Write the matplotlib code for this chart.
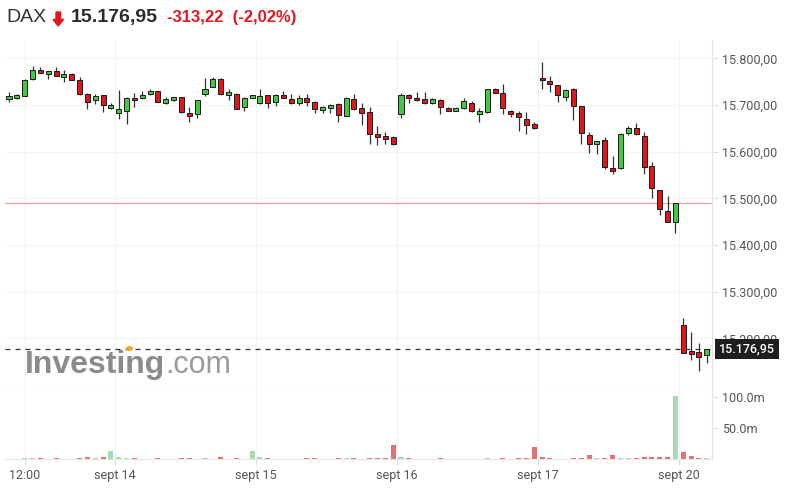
import numpy as np
import matplotlib.pyplot as plt
from matplotlib.patches import Polygon
from matplotlib.ticker import FuncFormatter, FixedLocator
import matplotlib.transforms as mtransforms

# %% data: DAX 30-min candles, 13-20 sept
opens = [15713.2, 15714.6, 15720.4, 15755.4, 15775.4, 15766.8, 15772.5, 15760.4, 15766.8, 15753.9,
         15723.9, 15710.4, 15721.1, 15693.2, 15682.5, 15688.2, 15716.1, 15714.6, 15723.2, 15729.6,
         15704.6, 15710.4, 15716.8, 15683.9, 15680.4, 15723.2, 15739.7, 15756.1, 15721.1, 15724.7,
         15696.8, 15715.4, 15703.9, 15721.8, 15706.8, 15721.1, 15713.2, 15703.9, 15716.1, 15707.5,
         15688.9, 15693.2, 15703.2, 15677.5, 15713.2, 15694.7, 15686.1, 15638.9, 15633.2, 15632.5,
         15680.4, 15721.1, 15715.4, 15713.2, 15703.9, 15710.4, 15694.7, 15688.2, 15694.0, 15705.4,
         15680.4, 15685.4, 15734.7, 15726.8, 15686.8, 15683.9, 15670.4, 15660.4, 15758.9, 15751.1,
         15742.5, 15718.2, 15734.6, 15697.5, 15636.1, 15616.1, 15624.6, 15566.1, 15564.6, 15639.6,
         15651.8, 15633.2, 15568.9, 15517.5, 15472.5, 15450.4, 15228.2, 15173.2, 15171.8, 15164.6]
highs = [15727.5, 15723.2, 15755.4, 15784.6, 15781.1, 15773.9, 15781.1, 15776.1, 15769.6, 15759.6,
         15725.4, 15723.2, 15721.8, 15703.9, 15731.8, 15717.5, 15726.8, 15731.1, 15734.6, 15730.4,
         15716.8, 15718.2, 15718.0, 15695.4, 15711.1, 15757.5, 15759.7, 15757.5, 15733.9, 15725.4,
         15717.5, 15721.8, 15734.7, 15722.5, 15724.0, 15730.4, 15723.2, 15722.5, 15724.0, 15708.2,
         15698.2, 15701.8, 15704.0, 15716.8, 15723.2, 15703.9, 15696.1, 15656.1, 15642.5, 15633.2,
         15725.4, 15724.7, 15727.5, 15727.5, 15715.4, 15712.5, 15696.1, 15696.1, 15715.4, 15708.2,
         15693.2, 15735.4, 15736.1, 15744.7, 15689.7, 15687.5, 15685.4, 15663.9, 15793.2, 15762.5,
         15743.9, 15735.4, 15736.1, 15698.9, 15641.8, 15623.2, 15631.1, 15591.1, 15639.6, 15656.1,
         15661.8, 15642.5, 15577.5, 15518.2, 15505.4, 15490.2, 15243.2, 15213.2, 15189.6, 15178.0]
lows = [15707.5, 15713.2, 15718.9, 15754.0, 15768.2, 15756.1, 15762.5, 15750.4, 15753.2, 15721.1,
        15691.8, 15701.8, 15686.1, 15691.1, 15670.4, 15659.6, 15696.8, 15713.2, 15721.1, 15706.1,
        15702.5, 15708.9, 15683.9, 15664.7, 15673.2, 15719.7, 15738.2, 15722.5, 15710.4, 15691.1,
        15688.2, 15714.7, 15703.2, 15694.7, 15699.0, 15714.7, 15703.2, 15700.4, 15698.2, 15683.9,
        15683.2, 15682.5, 15663.9, 15676.8, 15689.7, 15656.8, 15616.1, 15613.9, 15616.8, 15615.4,
        15671.8, 15705.4, 15709.7, 15702.5, 15703.2, 15680.4, 15686.8, 15686.8, 15692.5, 15686.1,
        15664.7, 15683.9, 15725.4, 15680.4, 15675.4, 15644.0, 15638.2, 15648.2, 15734.6, 15727.5,
        15707.5, 15708.2, 15667.5, 15616.1, 15596.8, 15594.6, 15563.9, 15551.8, 15563.2, 15635.4,
        15636.1, 15551.8, 15501.8, 15463.9, 15449.6, 15426.8, 15168.2, 15153.9, 15130.4, 15146.8]
closes = [15719.6, 15721.1, 15753.9, 15775.4, 15768.9, 15772.5, 15763.2, 15766.8, 15754.6, 15723.2,
          15706.8, 15718.9, 15699.6, 15699.6, 15691.1, 15716.1, 15710.4, 15721.1, 15729.6, 15707.5,
          15713.2, 15716.8, 15685.4, 15677.5, 15710.4, 15734.7, 15756.1, 15723.2, 15727.5, 15692.5,
          15716.1, 15721.1, 15719.7, 15703.9, 15721.8, 15715.4, 15703.9, 15716.1, 15706.8, 15691.1,
          15695.4, 15700.4, 15678.2, 15716.1, 15692.5, 15682.5, 15637.5, 15631.8, 15626.8, 15616.1,
          15722.5, 15714.7, 15710.4, 15703.9, 15712.5, 15696.8, 15688.2, 15694.7, 15708.2, 15688.2,
          15687.5, 15734.7, 15726.1, 15693.2, 15680.4, 15675.4, 15658.2, 15651.1, 15753.2, 15744.6,
          15721.1, 15732.5, 15698.9, 15639.6, 15616.1, 15622.5, 15567.5, 15559.6, 15638.9, 15651.8,
          15637.5, 15568.2, 15521.8, 15476.8, 15450.4, 15490.17, 15169.6, 15166.8, 15161.1, 15176.95]
# volume in millions
volumes = [0.8, 0.8, 1.0, 1.2, 1.0, 0.8, 1.0, 0.8, 0.8, 1.5,
           2.5, 1.2, 3.0, 13.5, 3.0, 1.5, 1.0, 0.8, 0.8, 1.0,
           0.8, 0.8, 1.0, 1.0, 0.8, 1.0, 0.8, 3.0, 0.8, 1.0,
           0.8, 13.5, 2.5, 1.2, 0.8, 0.8, 0.8, 0.8, 1.0, 1.0,
           0.8, 0.8, 1.0, 1.0, 1.0, 0.8, 1.5, 1.0, 1.0, 22.0,
           2.5, 1.0, 0.8, 0.8, 0.8, 1.0, 0.8, 0.8, 0.8, 0.8,
           0.8, 1.0, 0.8, 1.0, 0.8, 1.0, 1.2, 19.0, 2.5, 1.0,
           0.8, 0.8, 1.0, 1.2, 7.0, 1.0, 1.2, 7.0, 1.2, 1.0,
           1.0, 3.0, 3.0, 3.0, 3.0, 101.0, 11.0, 5.5, 1.5, 1.0]

tick_pos = [3, 14.5, 32.5, 50.5, 68.5, 86.5]
tick_labels = ["12:00", "sept 14", "sept 15", "sept 16", "sept 17", "sept 20"]
price_ticks = [15200, 15300, 15400, 15500, 15600, 15700, 15800]
vol_ticks = [50, 100]
prev_close = 15490.17
last = 15176.95
change = -313.22
change_pct = -2.02

# %%
W, H = 785, 496
GREEN, RED = "#41c941", "#e0161b"
VGREEN, VRED = "#a6dbb6", "#e27272"


def de(v, d=2):
    s = f"{v:,.{d}f}"
    return s.replace(",", "#").replace(".", ",").replace("#", ".")


def fx(px):
    return px / W


def fy(py):
    return 1 - py / H


o, h, l, c = map(np.array, (opens, highs, lows, closes))
x = np.arange(1, len(o) + 1)
up = c >= o

fig = plt.figure(figsize=(W / 100, H / 100), dpi=100)
ax = fig.add_axes([fx(5), fy(385), fx(707), 345 / H])
axv = fig.add_axes([fx(5), fy(459), fx(707), 74 / H], sharex=ax)

# candles
ax.vlines(x, l, h, color="#333333", lw=0.9, zorder=3)
body = np.maximum(np.abs(c - o), 2.0)
ax.bar(x, body, bottom=np.minimum(o, c), width=0.64,
       color=np.where(up, GREEN, RED), edgecolor="#1a1a1a", lw=0.7, zorder=4)

ax.axhline(prev_close, color="#f2a0a0", lw=0.9, zorder=2)
ax.axhline(last, color="#333333", lw=0.9, ls=(0, (4, 4)), zorder=2)

ax.set_xlim(0.49, 90.67)
ax.set_ylim(15100.3, 15839.6)
ax.yaxis.tick_right()
ax.yaxis.set_major_locator(FixedLocator(price_ticks))
ax.yaxis.set_major_formatter(FuncFormatter(lambda v, p: de(v)))
ax.tick_params(axis="y", length=4, width=0.8, color="#dddddd", labelcolor="#555555",
               labelsize=9, pad=3)
ax.tick_params(axis="x", bottom=False, labelbottom=False)
for lab in ax.get_yticklabels():
    lab.set_family("Roboto")
ax.grid(axis="y", color="#f4f4f4", lw=0.8)
for t in tick_pos:
    ax.axvline(t, color="#f2f2f2", lw=0.8, zorder=0)
    axv.axvline(t, color="#f2f2f2", lw=0.8, zorder=0)
for s in ("top", "left"):
    ax.spines[s].set_visible(False)
ax.spines["right"].set_color("#e2e2e2")
ax.spines["bottom"].set_color("#c8c8c8")

# last price tag
tr = mtransforms.blended_transform_factory(ax.transAxes, ax.transData)
ax.text(1.01, last, de(last), transform=tr, ha="left", va="center", color="white",
        fontsize=9, family="Roboto", fontweight="medium", clip_on=False, zorder=10,
        bbox=dict(boxstyle="square,pad=0.3", fc="#1e1e1e", ec="none"))

# watermark
wm = ax.text(0.028, 0.036, "Investing", transform=ax.transAxes, color="#8b8b8b",
             fontsize=23, fontweight="bold", family="Liberation Sans", zorder=1)
fig.canvas.draw()
bb = wm.get_window_extent(fig.canvas.get_renderer())
ax.text(bb.x1 / (W / 100 * fig.dpi), 0.036, ".com",
        transform=mtransforms.blended_transform_factory(fig.transFigure, ax.transAxes),
        fontsize=22, color="#9a9a9a", family="Liberation Sans", zorder=1)
fig.patches.append(plt.Circle((fx(129.5), fy(348.5)), 2.8 / W, transform=fig.transFigure,
                              color="#f5a623", zorder=5))

# volume
axv.bar(x, volumes, width=0.64, color=np.where(up, VGREEN, VRED), lw=0)
axv.set_ylim(0, 119)
axv.yaxis.tick_right()
axv.yaxis.set_major_locator(FixedLocator(vol_ticks))
axv.yaxis.set_major_formatter(FuncFormatter(lambda v, p: f"{v:.1f}m"))
axv.tick_params(axis="y", length=4, width=0.8, color="#dddddd", labelcolor="#555555",
                labelsize=9, pad=3)
axv.set_xticks(tick_pos)
axv.set_xticklabels(tick_labels)
axv.tick_params(axis="x", length=4, width=0.8, color="#dddddd", labelcolor="#555555",
                labelsize=9, pad=3)
for lab in axv.get_yticklabels() + axv.get_xticklabels():
    lab.set_family("Roboto")
for s in ("top", "left"):
    axv.spines[s].set_visible(False)
axv.spines["right"].set_color("#e2e2e2")
axv.spines["bottom"].set_color("#e6e6e6")

# header
fig.text(fx(6), fy(17.5), "DAX", fontsize=14, color="#333333", family="Liberation Sans",
         va="center", ha="left")
arrow = [(56, 12), (60.5, 12), (60.5, 19.5), (63.5, 19.5), (58.2, 26), (53, 19.5), (56, 19.5)]
fig.patches.append(Polygon([(fx(a), fy(b)) for a, b in arrow], closed=True,
                           transform=fig.transFigure, color="#e8141c"))
fig.text(fx(71), fy(17.5), de(last), fontsize=14, fontweight="bold", color="#2b2b2b",
         family="Liberation Sans", va="center", ha="left")
fig.text(fx(167), fy(17.5), f"{de(change)}  ({de(change_pct)}%)", fontsize=12,
         fontweight="bold", color="#e0191f", family="Liberation Sans", va="center", ha="left")

fig.savefig("out.png", dpi=100)
